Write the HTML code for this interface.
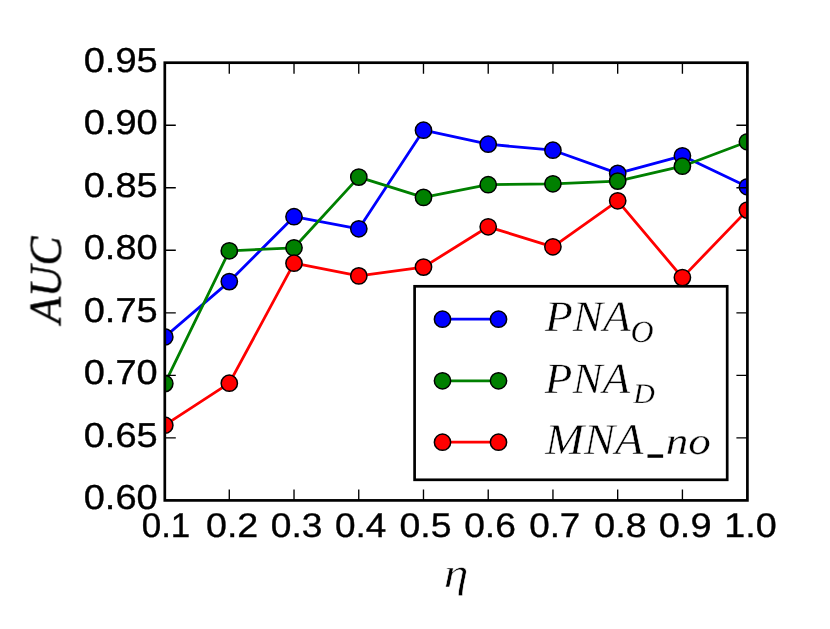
<!DOCTYPE html>
<html lang="en"><head><meta charset="utf-8"><title>AUC vs eta</title>
<style>
html,body{margin:0;padding:0;background:#fff;}
body{width:830px;height:629px;overflow:hidden;font-family:"Liberation Sans",sans-serif;}
svg{display:block;}
text{font-kerning:none;fill:#000;text-rendering:geometricPrecision;}
.s{stroke:#000;stroke-width:0.35px;}
.m{stroke:#fff;stroke-width:0.5px;}
.m.l{stroke-width:0.3px;}
.m.n{stroke:none;}
.m.b{stroke:#000;stroke-width:0.45px;}
.tx{mix-blend-mode:multiply;}
.s{font-family:"Liberation Sans",sans-serif;}
.m{font-family:"Liberation Serif",serif;font-style:italic;}
</style></head><body>
<svg width="830" height="629" viewBox="0 0 830 629">
<rect x="0" y="0" width="830" height="629" fill="#fff"/>
<defs><clipPath id="ax"><rect x="164.80" y="62.70" width="582.60" height="437.70"/></clipPath></defs>
<g clip-path="url(#ax)">
<polyline points="164.8,336.9 229.3,281.6 294.0,216.7 358.8,228.8 423.5,130.2 488.2,144.2 552.9,150.2 617.7,173.4 682.4,155.8 747.4,186.8" fill="none" stroke="#0000ff" stroke-width="2.80" stroke-linejoin="round"/>
<g fill="#0000ff" stroke="#000" stroke-width="1.50"><circle cx="164.8" cy="336.9" r="8.15"/><circle cx="229.3" cy="281.6" r="8.15"/><circle cx="294.0" cy="216.7" r="8.15"/><circle cx="358.8" cy="228.8" r="8.15"/><circle cx="423.5" cy="130.2" r="8.15"/><circle cx="488.2" cy="144.2" r="8.15"/><circle cx="552.9" cy="150.2" r="8.15"/><circle cx="617.7" cy="173.4" r="8.15"/><circle cx="682.4" cy="155.8" r="8.15"/><circle cx="747.4" cy="186.8" r="8.15"/></g>
</g>
<g clip-path="url(#ax)">
<polyline points="164.8,383.6 229.3,250.8 294.0,247.8 358.8,177.1 423.5,197.4 488.2,184.7 552.9,183.8 617.7,181.1 682.4,166.2 747.4,141.8" fill="none" stroke="#008000" stroke-width="2.80" stroke-linejoin="round"/>
<g fill="#008000" stroke="#000" stroke-width="1.50"><circle cx="164.8" cy="383.6" r="8.15"/><circle cx="229.3" cy="250.8" r="8.15"/><circle cx="294.0" cy="247.8" r="8.15"/><circle cx="358.8" cy="177.1" r="8.15"/><circle cx="423.5" cy="197.4" r="8.15"/><circle cx="488.2" cy="184.7" r="8.15"/><circle cx="552.9" cy="183.8" r="8.15"/><circle cx="617.7" cy="181.1" r="8.15"/><circle cx="682.4" cy="166.2" r="8.15"/><circle cx="747.4" cy="141.8" r="8.15"/></g>
</g>
<g clip-path="url(#ax)">
<polyline points="164.8,425.2 229.3,383.2 294.0,263.2 358.8,275.9 423.5,267.1 488.2,226.8 552.9,246.8 617.7,200.8 682.4,277.6 747.4,210.1" fill="none" stroke="#ff0000" stroke-width="2.80" stroke-linejoin="round"/>
<g fill="#ff0000" stroke="#000" stroke-width="1.50"><circle cx="164.8" cy="425.2" r="8.15"/><circle cx="229.3" cy="383.2" r="8.15"/><circle cx="294.0" cy="263.2" r="8.15"/><circle cx="358.8" cy="275.9" r="8.15"/><circle cx="423.5" cy="267.1" r="8.15"/><circle cx="488.2" cy="226.8" r="8.15"/><circle cx="552.9" cy="246.8" r="8.15"/><circle cx="617.7" cy="200.8" r="8.15"/><circle cx="682.4" cy="277.6" r="8.15"/><circle cx="747.4" cy="210.1" r="8.15"/></g>
</g>
<g stroke="#000" stroke-width="1.35" fill="none">
<path d="M164.80 500.40V489.40M164.80 62.70V73.70"/><path d="M229.28 500.40V489.40M229.28 62.70V73.70"/><path d="M294.02 500.40V489.40M294.02 62.70V73.70"/><path d="M358.75 500.40V489.40M358.75 62.70V73.70"/><path d="M423.48 500.40V489.40M423.48 62.70V73.70"/><path d="M488.22 500.40V489.40M488.22 62.70V73.70"/><path d="M552.95 500.40V489.40M552.95 62.70V73.70"/><path d="M617.68 500.40V489.40M617.68 62.70V73.70"/><path d="M682.42 500.40V489.40M682.42 62.70V73.70"/><path d="M747.40 500.40V489.40M747.40 62.70V73.70"/>
<path d="M164.80 500.40H175.80M747.40 500.40H736.40"/><path d="M164.80 437.87H175.80M747.40 437.87H736.40"/><path d="M164.80 375.34H175.80M747.40 375.34H736.40"/><path d="M164.80 312.81H175.80M747.40 312.81H736.40"/><path d="M164.80 250.29H175.80M747.40 250.29H736.40"/><path d="M164.80 187.76H175.80M747.40 187.76H736.40"/><path d="M164.80 125.23H175.80M747.40 125.23H736.40"/><path d="M164.80 62.70H175.80M747.40 62.70H736.40"/>
</g>
<rect x="164.80" y="62.70" width="582.60" height="437.70" fill="none" stroke="#000" stroke-width="2.70" stroke-linejoin="miter"/>
<g class="tx">
<text class="s" font-size="34.60" transform="translate(83.72 509.36) scale(1.0983 1.0000)">0.60</text>
<text class="s" font-size="34.60" transform="translate(83.71 446.83) scale(1.1000 1.0000)">0.65</text>
<text class="s" font-size="34.60" transform="translate(83.72 384.30) scale(1.0983 1.0000)">0.70</text>
<text class="s" font-size="34.60" transform="translate(83.71 321.78) scale(1.1000 1.0000)">0.75</text>
<text class="s" font-size="34.60" transform="translate(83.72 259.25) scale(1.0983 1.0000)">0.80</text>
<text class="s" font-size="34.60" transform="translate(83.71 196.72) scale(1.1000 1.0000)">0.85</text>
<text class="s" font-size="34.60" transform="translate(83.72 134.19) scale(1.0983 1.0000)">0.90</text>
<text class="s" font-size="34.60" transform="translate(83.71 71.66) scale(1.1000 1.0000)">0.95</text>
<text class="s" font-size="34.18" transform="translate(141.74 537.07) scale(1.0222 1.0000)">0.1</text>
<text class="s" font-size="34.18" transform="translate(206.03 537.07) scale(1.0998 1.0000)">0.2</text>
<text class="s" font-size="34.18" transform="translate(270.85 537.07) scale(1.0878 1.0000)">0.3</text>
<text class="s" font-size="34.18" transform="translate(334.95 537.07) scale(1.0824 1.0000)">0.4</text>
<text class="s" font-size="34.18" transform="translate(399.54 537.07) scale(1.0951 1.0000)">0.5</text>
<text class="s" font-size="34.18" transform="translate(464.15 537.07) scale(1.0878 1.0000)">0.6</text>
<text class="s" font-size="34.18" transform="translate(529.16 537.07) scale(1.0773 1.0000)">0.7</text>
<text class="s" font-size="34.18" transform="translate(594.33 537.07) scale(1.0986 1.0000)">0.8</text>
<text class="s" font-size="34.18" transform="translate(658.72 537.07) scale(1.1108 1.0000)">0.9</text>
<text class="s" font-size="34.18" transform="translate(724.33 537.07) scale(1.1038 1.0000)">1.0</text>
<text class="m b" font-size="45.50" transform="translate(60.56 323.43) rotate(-90) scale(0.9541 1.0000)">AUC</text>
<text class="m" font-size="41.49" transform="translate(443.63 586.55) scale(1.1968 1.0000)">η</text>
</g>
<rect x="414.60" y="286.30" width="312.60" height="193.50" fill="#fff" stroke="#000" stroke-width="2.70"/>
<path d="M442.5 319.2H498.5" stroke="#0000ff" stroke-width="2.80" fill="none"/><g fill="#0000ff" stroke="#000" stroke-width="1.50"><circle cx="442.5" cy="319.2" r="8.15"/><circle cx="498.5" cy="319.2" r="8.15"/></g>
<path d="M442.5 380.8H498.5" stroke="#008000" stroke-width="2.80" fill="none"/><g fill="#008000" stroke="#000" stroke-width="1.50"><circle cx="442.5" cy="380.8" r="8.15"/><circle cx="498.5" cy="380.8" r="8.15"/></g>
<path d="M442.5 442.2H498.5" stroke="#ff0000" stroke-width="2.80" fill="none"/><g fill="#ff0000" stroke="#000" stroke-width="1.50"><circle cx="442.5" cy="442.2" r="8.15"/><circle cx="498.5" cy="442.2" r="8.15"/></g>
<g class="tx">
<text class="m" font-size="43.63" transform="translate(544.94 330.80) scale(1.0401 1.0000)">PNA</text>
<text class="m l" font-size="30.96" transform="translate(630.49 341.50) scale(1.0312 1.0000)">O</text>
<text class="m" font-size="43.32" transform="translate(544.84 393.00) scale(1.0413 1.0000)">PNA</text>
<text class="m l" font-size="28.17" transform="translate(633.34 403.04) scale(1.0626 1.0000)">D</text>
<text class="m" font-size="43.78" transform="translate(545.15 454.20) scale(1.0648 1.0000)">MNA</text>
<text class="m l" font-size="38.05" transform="translate(665.69 454.23) scale(1.1867 1.0000)">no</text>
<text class="m n" font-size="40.00" transform="translate(647.84 448.80) scale(0.7564 1.7067)">_</text>
</g>
</svg>
</body></html>
